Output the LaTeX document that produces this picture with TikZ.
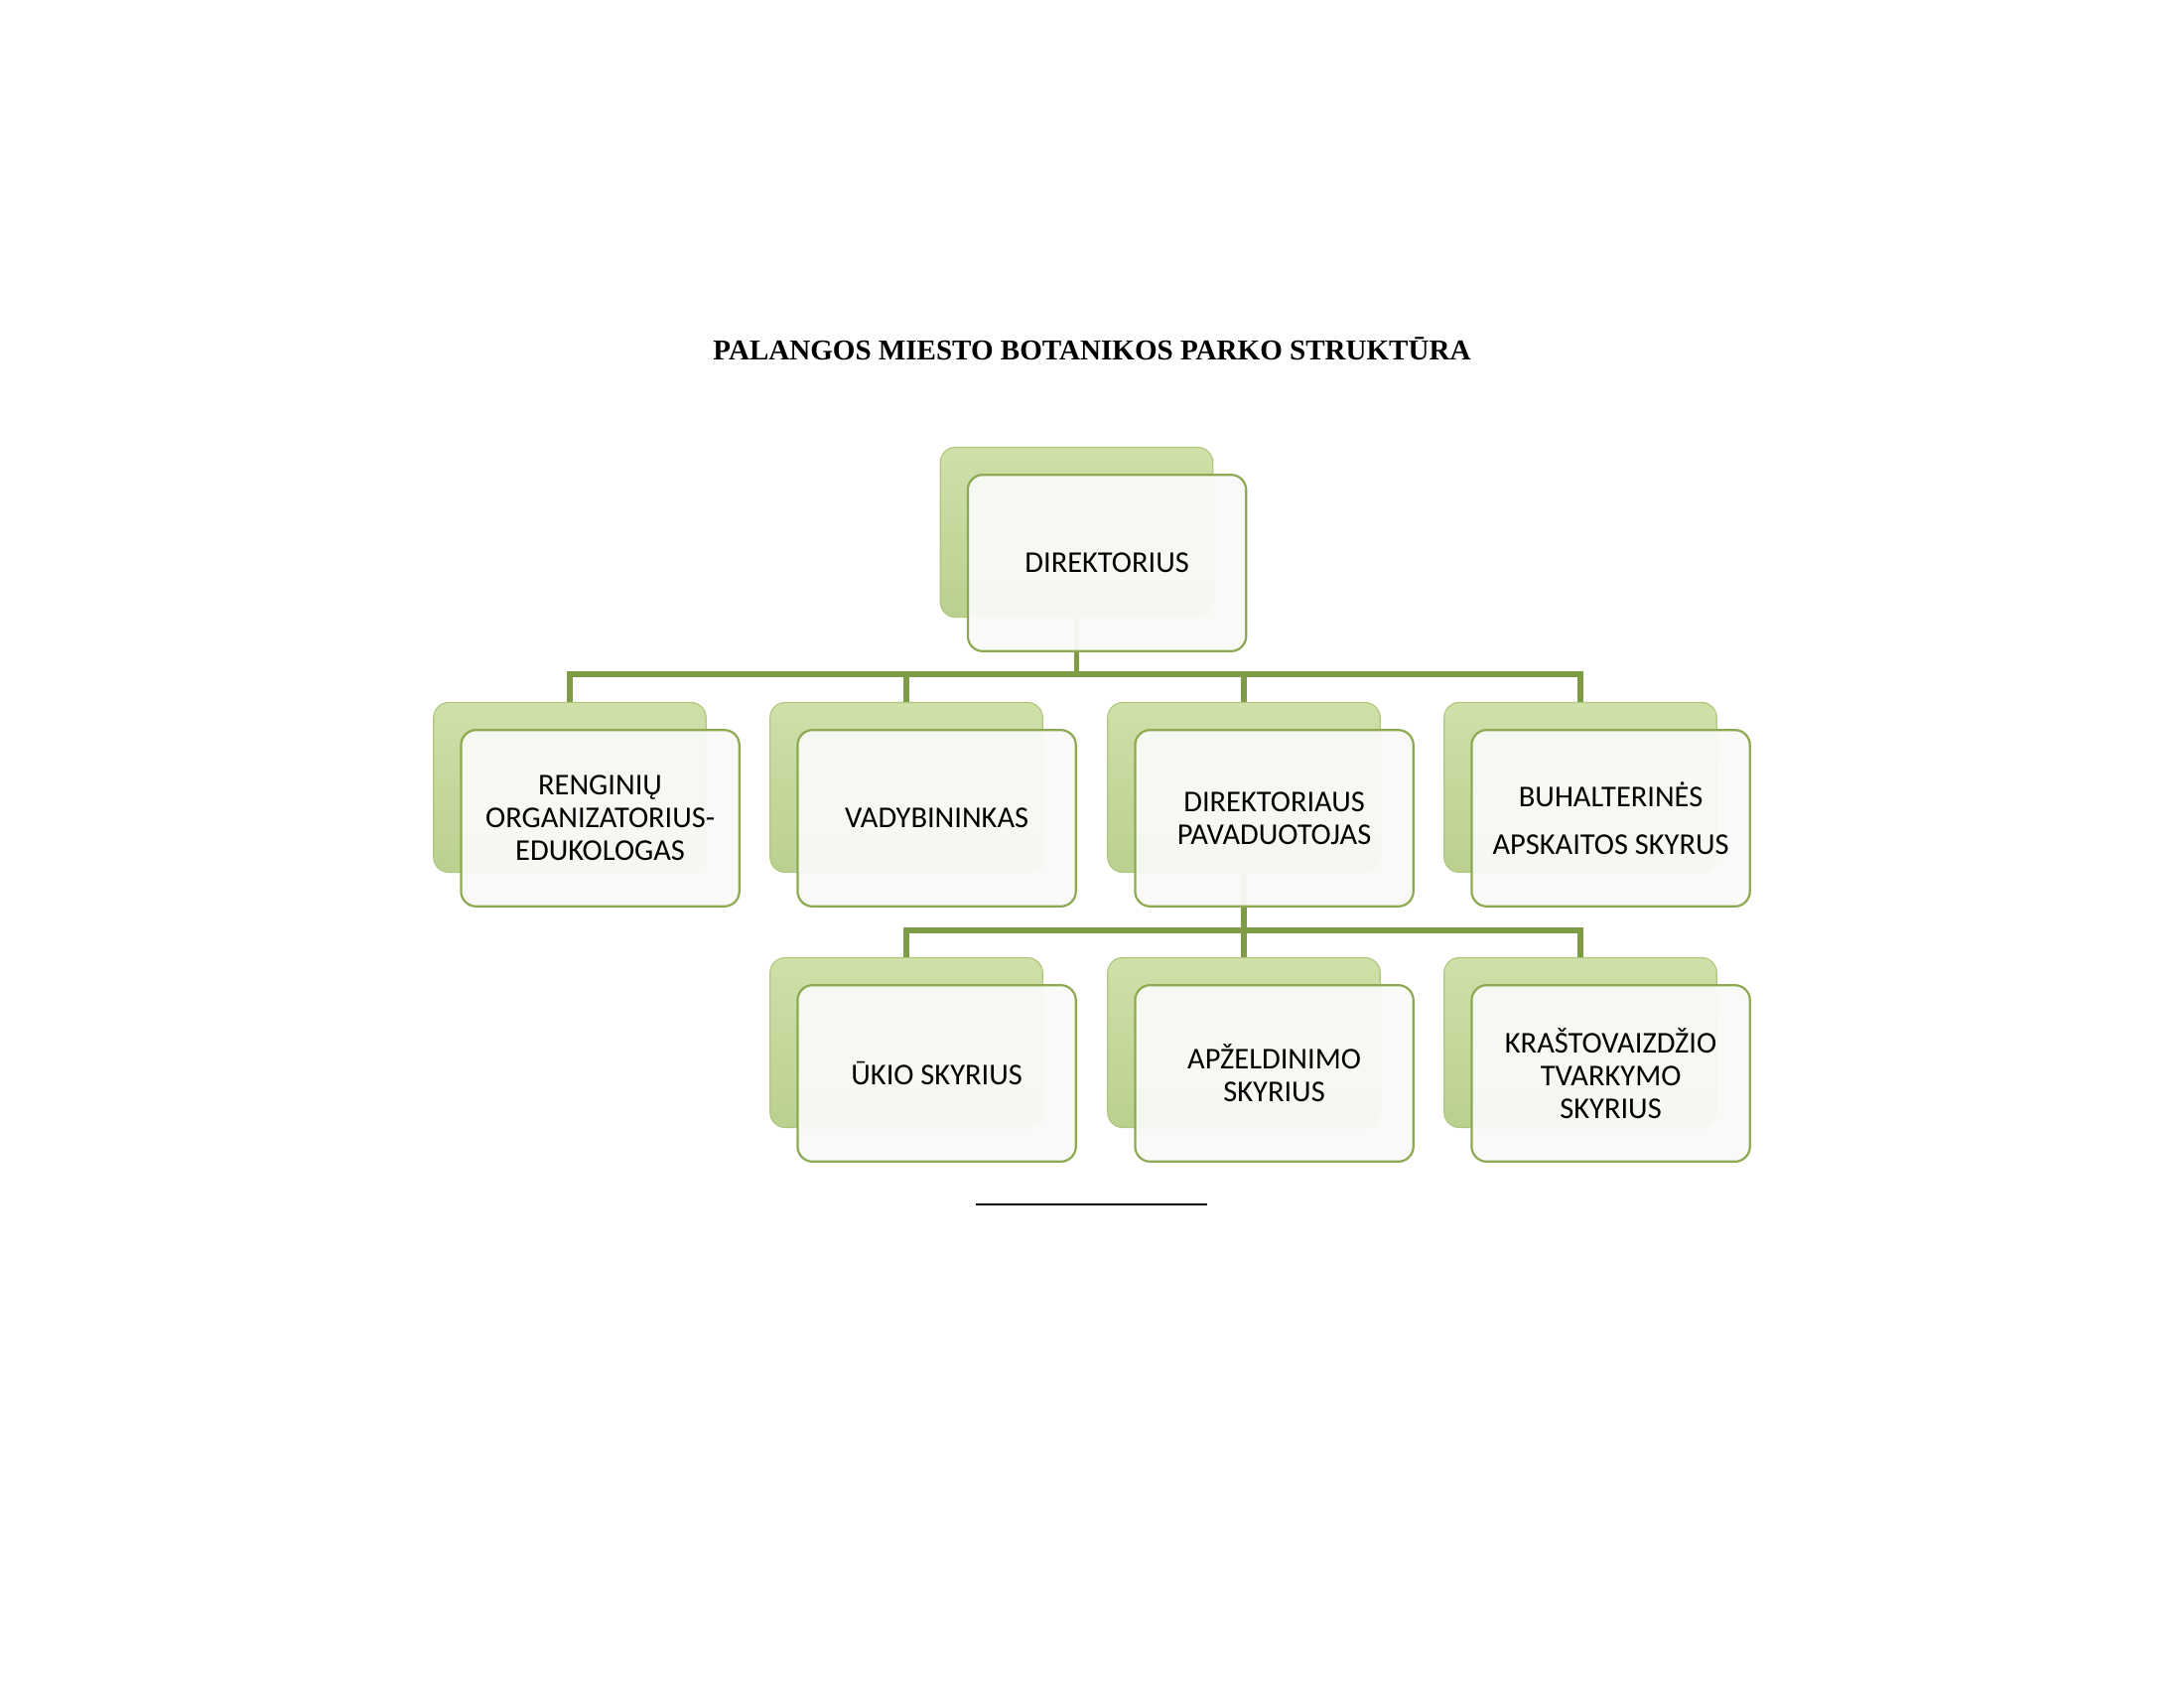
\documentclass[tikz,border=0pt]{standalone}
\usepackage{fontspec}
\setmainfont{Carlito}
\newfontfamily\titlefont{Liberation Serif}
\usetikzlibrary{positioning}

\definecolor{busgreen}{HTML}{7E9C46}
\definecolor{backtop}{HTML}{CFE0A9}
\definecolor{backmid}{HTML}{C3D69B}
\definecolor{backbot}{HTML}{BAD08F}
\definecolor{backedge}{HTML}{B0C77F}
\definecolor{frontedge}{HTML}{8DAA52}
\definecolor{frontfill}{HTML}{F9FAF7}

\tikzset{
  backbox/.style={draw=backedge, line width=0.4pt, rounded corners=5.5pt,
    top color=backtop, middle color=backmid, bottom color=backbot,
    minimum width=99.2pt, minimum height=61.8pt, inner sep=0pt},
  frontbox/.style={draw=frontedge, line width=0.8pt, rounded corners=5.5pt,
    fill=frontfill, fill opacity=0.95, text opacity=1,
    minimum width=101.3pt, minimum height=64.2pt, inner sep=0pt,
    align=center, font=\fontsize{11}{12}\selectfont},
  conn/.style={draw=busgreen, line width=1.9pt},
}

\begin{document}
\begin{tikzpicture}[x=0.36135pt, y=-0.36135pt]
  \useasboundingbox (0,0) rectangle (2200,1700);
  % title
  \node (title) at (1100,351) {\titlefont\bfseries\fontsize{10.5}{12}\selectfont PALANGOS MIESTO BOTANIKOS PARKO STRUKTŪRA};

  % back boxes
  \node[backbox] (dirb) at (1084.5,536) {};
  \node[backbox] (renb) at (574,793) {};
  \node[backbox] (vadb) at (913,793) {};
  \node[backbox] (pavb) at (1253,793) {};
  \node[backbox] (buhb) at (1592,793) {};
  \node[backbox] (ukib) at (913,1050) {};
  \node[backbox] (apzb) at (1253,1050) {};
  \node[backbox] (krab) at (1592,1050) {};

  % connectors
  \coordinate (bus1) at (0,679);
  \coordinate (bus2) at (0,937);
  \foreach \c in {renb,vadb,pavb,buhb}
    \draw[conn] (dirb.south) -- (dirb.south |- bus1) -| (\c.north);
  \foreach \c in {ukib,apzb,krab}
    \draw[conn] (pavb.south) -- (pavb.south |- bus2) -| (\c.north);

  % front boxes
  \node[frontbox, below right=9.8pt and 9.8pt of dirb.north west, anchor=north west] (dir) {DIREKTORIUS};
  \node[frontbox, below right=9.8pt and 9.8pt of renb.north west, anchor=north west] (ren) {RENGINIŲ\\ORGANIZATORIUS-\\EDUKOLOGAS};
  \node[frontbox, below right=9.8pt and 9.8pt of vadb.north west, anchor=north west] (vad) {VADYBININKAS};
  \node[frontbox, below right=9.8pt and 9.8pt of pavb.north west, anchor=north west] (pav) {DIREKTORIAUS\\PAVADUOTOJAS};
  \node[frontbox, below right=9.8pt and 9.8pt of buhb.north west, anchor=north west] (buh) {BUHALTERINĖS\\[5.5pt]APSKAITOS SKYRUS};
  \node[frontbox, below right=9.8pt and 9.8pt of ukib.north west, anchor=north west] (uki) {ŪKIO SKYRIUS};
  \node[frontbox, below right=9.8pt and 9.8pt of apzb.north west, anchor=north west] (apz) {APŽELDINIMO\\SKYRIUS};
  \node[frontbox, below right=9.8pt and 9.8pt of krab.north west, anchor=north west] (kra) {KRAŠTOVAIZDŽIO\\TVARKYMO\\SKYRIUS};

  % rule under the chart
  \coordinate (rulel) at (983,1213);
  \coordinate (ruler) at (1216,1213);
  \draw[line width=0.7pt] (rulel) -- (ruler);
\end{tikzpicture}
\end{document}
